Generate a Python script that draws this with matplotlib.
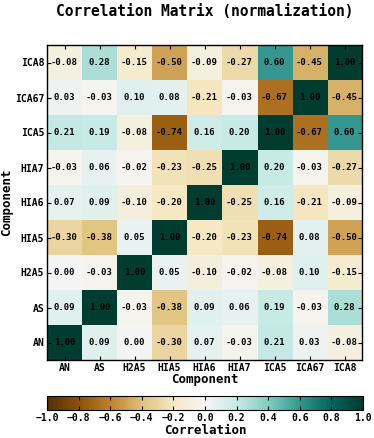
import numpy as np
import matplotlib
matplotlib.use('Agg')
import matplotlib.pyplot as plt

labels = ['AN', 'AS', 'H2A5', 'HIA5', 'HIA6', 'HIA7', 'ICA5', 'ICA67', 'ICA8']

# rows listed from AN (bottom) to ICA8 (top)
row_AN = [1.00, 0.09, 0.00, -0.30, 0.07, -0.03, 0.21, 0.03, -0.08]
row_AS = [0.09, 1.00, -0.03, -0.38, 0.09, 0.06, 0.19, -0.03, 0.28]
row_H2A5 = [0.00, -0.03, 1.00, 0.05, -0.10, -0.02, -0.08, 0.10, -0.15]
row_HIA5 = [-0.30, -0.38, 0.05, 1.00, -0.20, -0.23, -0.74, 0.08, -0.50]
row_HIA6 = [0.07, 0.09, -0.10, -0.20, 1.00, -0.25, 0.16, -0.21, -0.09]
row_HIA7 = [-0.03, 0.06, -0.02, -0.23, -0.25, 1.00, 0.20, -0.03, -0.27]
row_ICA5 = [0.21, 0.19, -0.08, -0.74, 0.16, 0.20, 1.00, -0.67, 0.60]
row_ICA67 = [0.03, -0.03, 0.10, 0.08, -0.21, -0.03, -0.67, 1.00, -0.45]
row_ICA8 = [-0.08, 0.28, -0.15, -0.50, -0.09, -0.27, 0.60, -0.45, 1.00]

corr = np.array([row_AN, row_AS, row_H2A5, row_HIA5, row_HIA6,
                 row_HIA7, row_ICA5, row_ICA67, row_ICA8])

plt.rcParams['font.family'] = 'DejaVu Sans Mono'
plt.rcParams['font.weight'] = 'bold'

fig = plt.figure(figsize=(3.74, 4.38), dpi=100)
ax = fig.add_axes([47/374, 1 - 360/438, 315/374, 315/438])
im = ax.imshow(corr, cmap='BrBG', vmin=-1, vmax=1, origin='lower',
               interpolation='nearest', aspect='auto')

for i in range(len(labels)):
    for j in range(len(labels)):
        ax.text(j, i, '%.2f' % corr[i, j], ha='center', va='center',
                fontsize=6.5, fontweight='bold', color='black')

ax.set_xticks(range(len(labels)))
ax.set_yticks(range(len(labels)))
ax.set_xticklabels(labels, fontsize=7, fontweight='bold')
ax.set_yticklabels(labels, fontsize=7, fontweight='bold')
ax.tick_params(direction='in', top=True, right=True, length=3, pad=2)
ax.set_xlabel('Component', fontsize=9, fontweight='bold', labelpad=0)
ax.set_ylabel('Component', fontsize=9, fontweight='bold', labelpad=1)
for s in ax.spines.values():
    s.set_linewidth(1.0)

fig.text(205/374, 1 - 11/438, 'Correlation Matrix (normalization)',
         fontsize=10.5, fontweight='bold', ha='center', va='center')

cax = fig.add_axes([47/374, 1 - 410/438, 316/374, 14/438])
cb = fig.colorbar(im, cax=cax, orientation='horizontal',
                  ticks=np.linspace(-1, 1, 11))
cb.ax.tick_params(labelsize=7, direction='in', top=True, length=3, pad=2)
cb.set_label('Correlation', fontsize=9, fontweight='bold', labelpad=1)

fig.savefig('out.png', dpi=100)
